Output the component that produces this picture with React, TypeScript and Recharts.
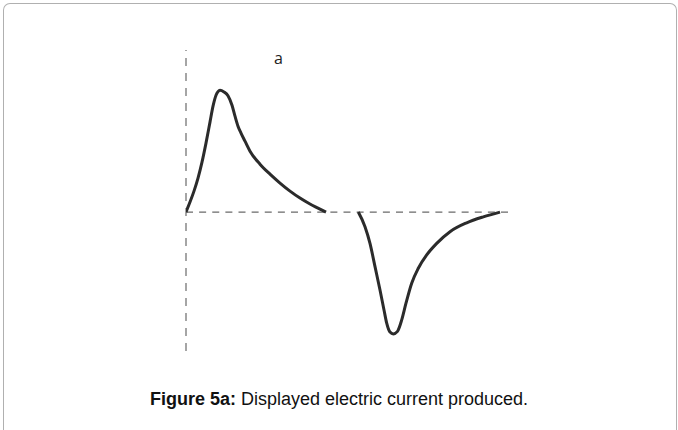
import React from "react";
import { LineChart, Line, XAxis, YAxis, ReferenceLine } from "recharts";

// Time (arbitrary units) and current (normalised to peak)
const positiveT = [
  0, 0.124, 0.248, 0.373, 0.497, 0.621, 0.745, 0.839, 0.932, 0.994, 1.056, 1.18, 1.304, 1.429, 1.522, 1.615,
  1.708, 1.832, 1.988, 2.298, 2.609, 2.919, 3.23, 3.54, 3.851, 4.099, 4.348,
];
const positiveI = [
  0, 0.082, 0.172, 0.279, 0.41, 0.566, 0.738, 0.869, 0.959, 0.988, 1.0, 0.986, 0.955, 0.877, 0.787, 0.705,
  0.648, 0.582, 0.5, 0.393, 0.311, 0.238, 0.172, 0.115, 0.066, 0.033, 0,
];
const negativeT = [
  5.351, 5.559, 5.714, 5.87, 6.025, 6.149, 6.233, 6.335, 6.438, 6.562, 6.699, 6.832, 7.009, 7.215, 7.475,
  7.786, 8.199, 8.717, 9.233, 9.752,
];
const negativeI = [
  0, -0.12, -0.257, -0.448, -0.639, -0.803, -0.912, -0.985, -1.0, -0.981, -0.885, -0.748, -0.584, -0.461,
  -0.352, -0.257, -0.161, -0.088, -0.039, 0,
];

const panelLabel = "a";
const captionBold = "Figure 5a:";
const captionText = " Displayed electric current produced.";

const positiveData = positiveT.map((t, i) => ({ t, i: positiveI[i] }));
const negativeData = negativeT.map((t, i) => ({ t, i: negativeI[i] }));

export default function App() {
  return (
    <div style={{ position: "fixed", left: 0, top: 0, width: 678, height: 430, background: "#fff", overflow: "hidden" }}>
      <div
        style={{
          position: "absolute",
          left: 3,
          top: 3,
          width: 674,
          height: 460,
          borderLeft: "1.5px solid #b0b0b0",
          borderTop: "1.5px solid #b0b0b0",
          borderRight: "1.5px solid #b0b0b0",
          borderRadius: 7,
          boxSizing: "border-box",
        }}
      />
      <div style={{ position: "absolute", left: 0, top: 0 }}>
        <LineChart width={678} height={430} margin={{ left: 186, right: 170, top: 50, bottom: 79 }}>
          <XAxis type="number" dataKey="t" domain={[0, 10]} hide allowDataOverflow />
          <YAxis type="number" domain={[-1.14, 1.33]} hide allowDataOverflow />
          <ReferenceLine x={0} stroke="#6a6a6a" strokeWidth={1.2} strokeDasharray="8 7" />
          <ReferenceLine y={0} stroke="#6a6a6a" strokeWidth={1.2} strokeDasharray="7 6.125" />
          <Line
            data={positiveData}
            dataKey="i"
            type="monotone"
            stroke="#2b2b2b"
            strokeWidth={3}
            dot={false}
            isAnimationActive={false}
          />
          <Line
            data={negativeData}
            dataKey="i"
            type="monotone"
            stroke="#2b2b2b"
            strokeWidth={3}
            dot={false}
            isAnimationActive={false}
          />
        </LineChart>
      </div>
      <div
        style={{
          position: "absolute",
          left: 274,
          top: 47,
          fontFamily: "'Open Sans', 'DejaVu Sans', sans-serif",
          fontSize: 16,
          color: "#222",
        }}
      >
        {panelLabel}
      </div>
      <div
        style={{
          position: "absolute",
          left: 0,
          width: 678,
          top: 389,
          textAlign: "center",
          fontFamily: "'Liberation Sans', Arial, sans-serif",
          fontSize: 18,
          color: "#111",
          whiteSpace: "nowrap",
        }}
      >
        <b>{captionBold}</b>
        {captionText}
      </div>
    </div>
  );
}
